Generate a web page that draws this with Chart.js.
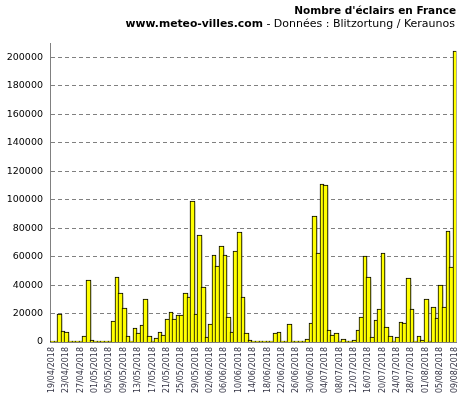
<!DOCTYPE html>
<html>
<head>
<meta charset="utf-8">
<script src="https://cdn.jsdelivr.net/npm/chart.js@4.4.0/dist/chart.umd.min.js"></script>
<style>
html, body { margin: 0; padding: 0; background: #fff; }
#cadre { width: 460px; height: 398px; }
</style>
</head>
<body>
<div id="cadre"><canvas id="graphEclairs" width="460" height="398"></canvas></div>
<script>
// jours du 19/04/2018 au 09/08/2018
const premierJour = Date.UTC(2018, 3, 19);
const nbJours = 113;
const jours = [];
for (let i = 0; i < nbJours; i++) {
    const d = new Date(premierJour + i * 86400000);
    const jj = String(d.getUTCDate()).padStart(2, '0');
    const mm = String(d.getUTCMonth() + 1).padStart(2, '0');
    jours.push(jj + '/' + mm + '/' + d.getUTCFullYear());
}

// nombre d'éclairs par jour
const eclairs = [
    0, 300, 20000, 7500, 6800, 200, 200, 0, 200, 4200,
    43300, 1200, 200, 200, 200, 200, 200, 14500, 45400, 34200,
    23900, 4000, 500, 9600, 6100, 11700, 29900, 4000, 400, 2500,
    6800, 4800, 15900, 21300, 15900, 19300, 19300, 34700, 31400, 98800,
    19900, 74900, 38400, 3300, 12400, 61300, 53100, 67200, 60800, 17300,
    6800, 63900, 77000, 31400, 6100, 1200, 200, 200, 200, 200,
    200, 200, 6100, 6800, 200, 200, 12400, 200, 200, 200,
    900, 1900, 13100, 88300, 62200, 111300, 110000, 8700, 5000, 6000,
    500, 2300, 200, 200, 1200, 8700, 17300, 60700, 45800, 3400,
    15800, 23000, 62300, 10400, 4000, 500, 3300, 13800, 13100, 44700,
    23000, 500, 4100, 1300, 30100, 1000, 24400, 16600, 39700, 24400,
    78300, 53000, 204100
];

const graduations = [0, 20000, 40000, 60000, 80000, 100000, 120000, 140000, 160000, 180000, 200000];
const pasEtiquettes = 4;

const titre = "Nombre d'éclairs en France";
const site = 'www.meteo-villes.com';
const source = ' - Données : Blitzortung / Keraunos';

const pluginFond = {
    id: 'fond',
    beforeDraw(chart) {
        const ctx = chart.ctx;
        ctx.save();
        ctx.fillStyle = '#ffffff';
        ctx.fillRect(0, 0, chart.width, chart.height);
        ctx.restore();
    }
};

// cale les barres sur des pixels entiers, bordure commune d'1 px entre deux jours
const pluginPixels = {
    id: 'pixels',
    afterDatasetsUpdate(chart) {
        const meta = chart.getDatasetMeta(0);
        const pas = chart.scales.x.width / nbJours;
        meta.data.forEach(function (barre) {
            const gauche = Math.round(barre.x - pas / 2);
            const droite = Math.round(barre.x + pas / 2) + 1;
            barre.x = (gauche + droite) / 2;
            barre.width = droite - gauche;
            barre.y = Math.round(barre.y);
            barre.base = Math.round(barre.base);
        });
    }
};

// ombre portée des barres
const pluginOmbre = {
    id: 'ombre',
    beforeDatasetsDraw(chart) {
        const ctx = chart.ctx;
        ctx.save();
        ctx.shadowColor = 'rgba(0, 0, 0, 0.4)';
        ctx.shadowOffsetX = 4;
        ctx.shadowOffsetY = 3;
        ctx.shadowBlur = 4;
    },
    afterDatasetsDraw(chart) {
        chart.ctx.restore();
    }
};

const pluginTitre = {
    id: 'titre',
    afterDraw(chart) {
        const ctx = chart.ctx;
        ctx.save();
        ctx.fillStyle = '#000';
        ctx.textAlign = 'right';
        ctx.textBaseline = 'alphabetic';
        ctx.font = 'bold 10.5px "DejaVu Sans"';
        ctx.fillText(titre, 456, 14);
        ctx.font = '11px "DejaVu Sans"';
        ctx.fillText(source, 455, 27);
        const largeur = ctx.measureText(source).width;
        ctx.font = 'bold 10.8px "DejaVu Sans"';
        ctx.fillText(site, 455 - largeur, 27);
        ctx.restore();
    }
};

const ctx = document.getElementById('graphEclairs');

new Chart(ctx, {
    type: 'bar',
    data: {
        labels: jours,
        datasets: [{
            label: "Nombre d'éclairs",
            data: eclairs,
            backgroundColor: '#ffff00',
            borderColor: '#000000',
            borderWidth: 1,
            barPercentage: 1,
            categoryPercentage: 1,
            minBarLength: 1.5
        }]
    },
    options: {
        responsive: false,
        animation: false,
        devicePixelRatio: 1,
        layout: {
            padding: { top: 43, right: 3.7, bottom: 2, left: 0 }
        },
        plugins: {
            legend: { display: false },
            tooltip: { enabled: false }
        },
        scales: {
            x: {
                grid: { display: false, drawTicks: false },
                border: { display: true, color: '#808080', width: 1 },
                ticks: {
                    autoSkip: false,
                    minRotation: 90,
                    maxRotation: 90,
                    padding: 5,
                    color: '#333344',
                    font: { family: 'DejaVu Sans', size: 8 },
                    callback: function (valeur, index) {
                        return index % pasEtiquettes === 0 ? jours[index] : '';
                    }
                },
                afterFit: function (scale) {
                    scale.height = 54;
                    scale.paddingLeft = 0;
                    scale.paddingRight = 0;
                }
            },
            y: {
                min: 0,
                max: 210000,
                grid: {
                    color: '#808080',
                    lineWidth: 1,
                    drawTicks: false
                },
                border: { display: true, color: '#808080', width: 1, dash: [4, 3] },
                ticks: {
                    padding: 7,
                    color: '#000',
                    font: { family: 'DejaVu Sans', size: 9.5 },
                    callback: function (valeur) {
                        return String(valeur);
                    }
                },
                afterBuildTicks: function (scale) {
                    scale.ticks = graduations.map(v => ({ value: v }));
                },
                afterFit: function (scale) {
                    scale.width = 50;
                    scale.paddingTop = 0;
                    scale.paddingBottom = 0;
                }
            }
        }
    },
    plugins: [pluginFond, pluginPixels, pluginOmbre, pluginTitre]
});
</script>
</body>
</html>
